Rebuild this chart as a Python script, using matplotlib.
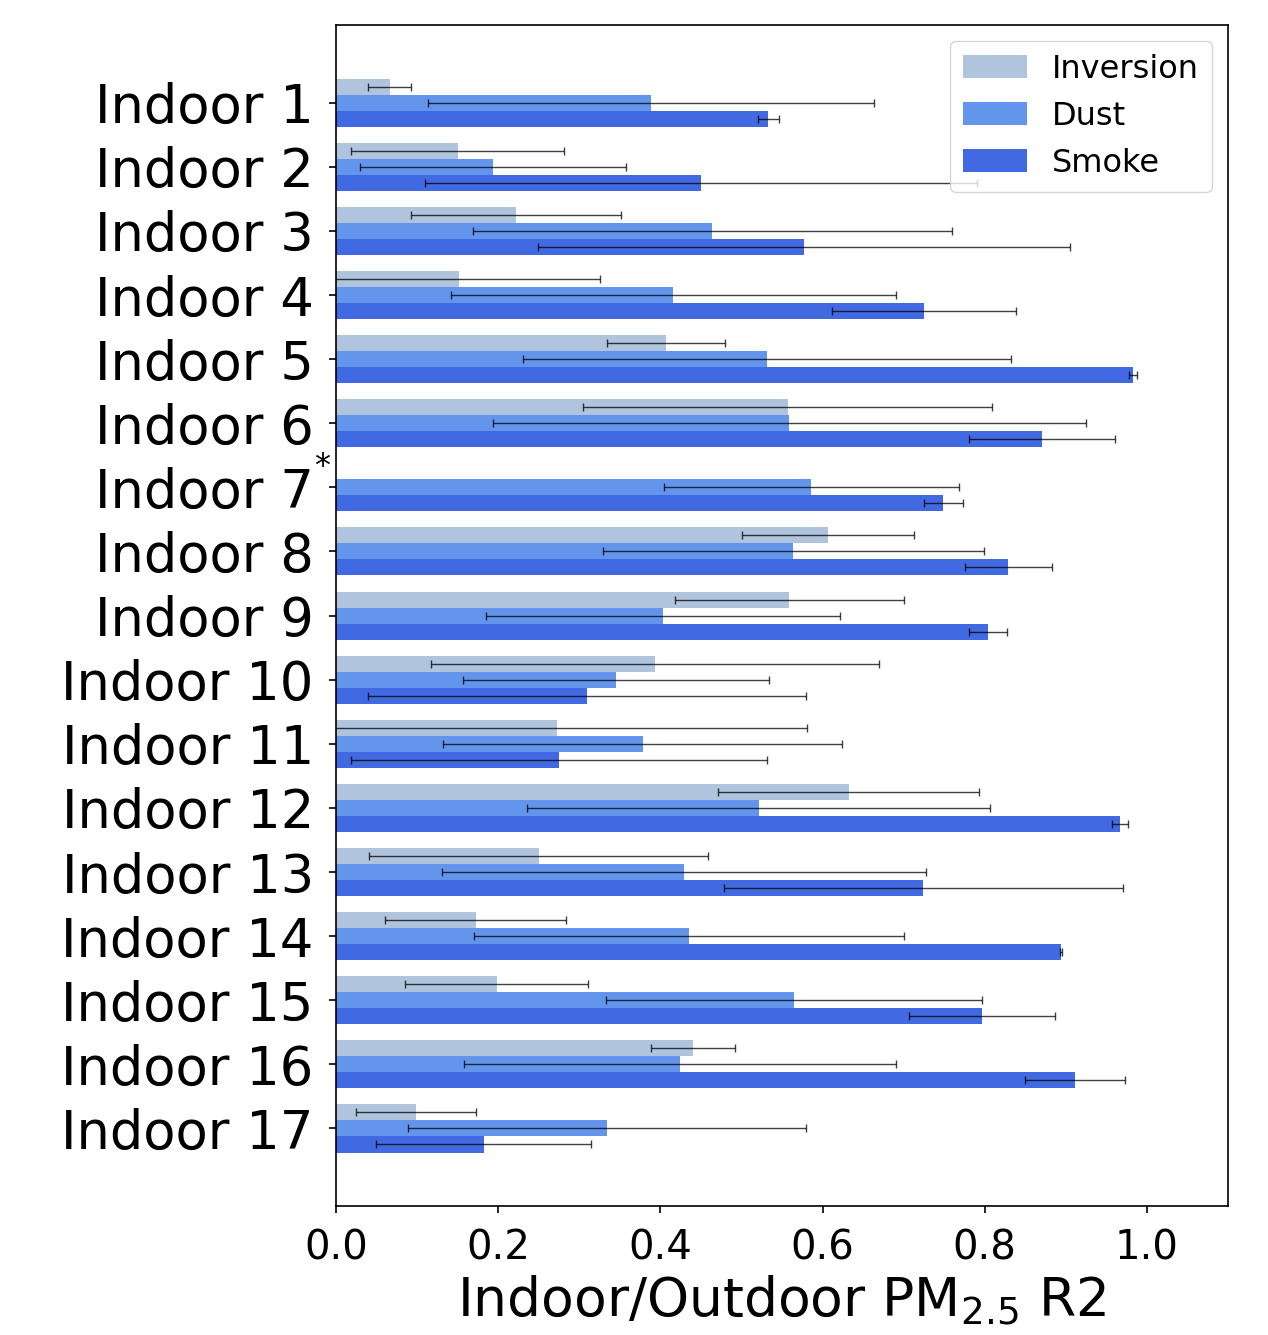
import numpy as np
import matplotlib
matplotlib.use("Agg")
import matplotlib.pyplot as plt

sites = ["Indoor 1", "Indoor 2", "Indoor 3", "Indoor 4", "Indoor 5", "Indoor 6",
         "Indoor 7", "Indoor 8", "Indoor 9", "Indoor 10", "Indoor 11",
         "Indoor 12", "Indoor 13", "Indoor 14", "Indoor 15", "Indoor 16", "Indoor 17"]

inversion = [0.066, 0.150, 0.222, 0.152, 0.407, 0.557, np.nan, 0.607, 0.559,
             0.393, 0.272, 0.632, 0.250, 0.172, 0.198, 0.440, 0.099]
inversion_err = [0.027, 0.131, 0.129, 0.173, 0.073, 0.252, np.nan, 0.106, 0.141,
                 0.276, 0.309, 0.161, 0.209, 0.112, 0.113, 0.052, 0.074]

dust = [0.389, 0.194, 0.464, 0.416, 0.531, 0.559, 0.586, 0.564, 0.403,
        0.345, 0.378, 0.521, 0.429, 0.435, 0.565, 0.424, 0.334]
dust_err = [0.275, 0.164, 0.295, 0.274, 0.301, 0.366, 0.182, 0.235, 0.218,
            0.189, 0.246, 0.285, 0.298, 0.265, 0.232, 0.266, 0.245]

smoke = [0.533, 0.450, 0.577, 0.725, 0.983, 0.870, 0.749, 0.829, 0.804,
         0.310, 0.275, 0.967, 0.724, 0.894, 0.797, 0.911, 0.182]
smoke_err = [0.013, 0.340, 0.328, 0.113, 0.005, 0.090, 0.024, 0.054, 0.024,
             0.270, 0.256, 0.010, 0.246, 0.001, 0.090, 0.062, 0.133]

y = np.arange(len(sites))
h = 0.25
err_style = dict(ecolor="black", elinewidth=1.0, capsize=3, capthick=1.0, alpha=0.75)

fig = plt.figure(figsize=(12.68, 13.35), dpi=100)
ax = fig.add_axes([0.265, 0.0966, 0.7035, 0.8846])

ax.barh(y - h, inversion, height=h, xerr=inversion_err, color="lightsteelblue",
        label="Inversion", error_kw=err_style)
ax.barh(y, dust, height=h, xerr=dust_err, color="cornflowerblue",
        label="Dust", error_kw=err_style)
ax.barh(y + h, smoke, height=h, xerr=smoke_err, color="royalblue",
        label="Smoke", error_kw=err_style)

ax.set_xlim(0, 1.1)
ax.set_ylim(17.21, -1.21)
ax.set_yticks(y)
ax.set_yticklabels(sites, fontsize=38)
ax.set_xticks([0.0, 0.2, 0.4, 0.6, 0.8, 1.0])
ax.set_xticklabels(["0.0", "0.2", "0.4", "0.6", "0.8", "1.0"], fontsize=29)
ax.tick_params(axis="both", length=5, width=1.2, pad=11)
for s in ax.spines.values():
    s.set_linewidth(1.2)

# asterisk marking Indoor 7 (no inversion data)
ax.text(-0.0155, 6 - 0.32, "*", transform=ax.get_yaxis_transform(),
        fontsize=23, ha="center", va="center", clip_on=False)

ax.set_xlabel("Indoor/Outdoor PM$_{2.5}$ R2", fontsize=38.5)
ax.legend(loc="upper right", fontsize=23)

fig.savefig("out.png", dpi=100)
